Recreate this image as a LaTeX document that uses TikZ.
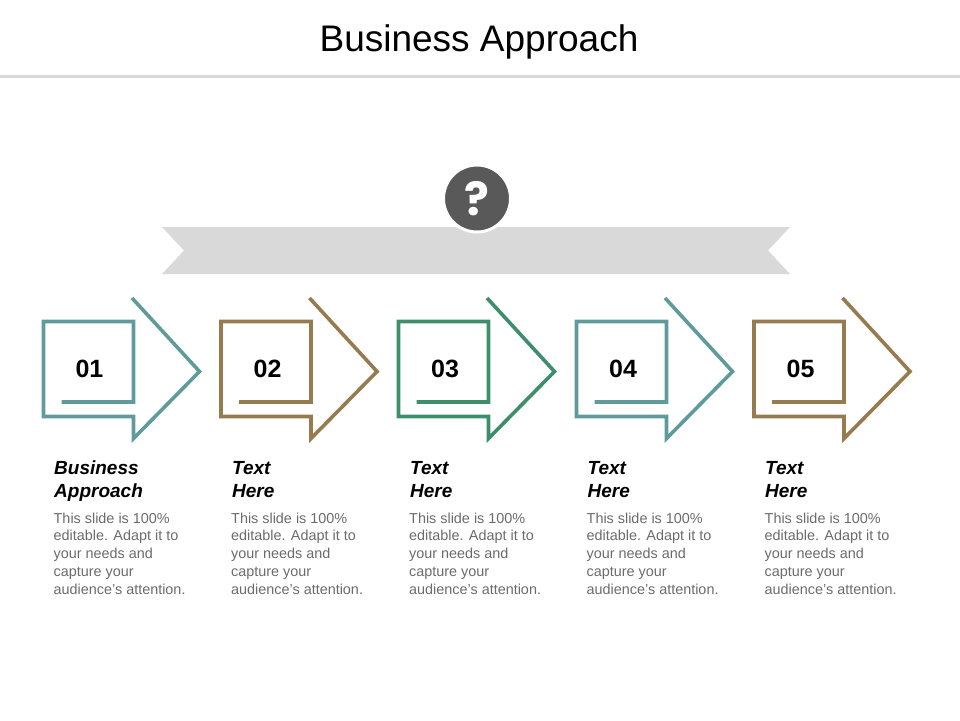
\documentclass[tikz,border=0pt]{standalone}
\usepackage{fontspec}
\setmainfont{Liberation Sans}
\newfontfamily\markfont{Poppins}
\definecolor{tealc}{HTML}{5F9B9B}
\definecolor{brownc}{HTML}{967B4E}
\definecolor{greenc}{HTML}{3E8E6C}
\definecolor{bandc}{HTML}{D9D9D9}
\definecolor{darkc}{HTML}{595959}
\definecolor{bodyc}{HTML}{6B6B6B}
\tikzset{
  numlabel/.style={font=\fontsize{25}{25}\selectfont\bfseries,inner sep=0pt},
  headlabel/.style={anchor=north west,inner sep=0pt,align=left,
    font=\fontsize{19}{23}\selectfont\bfseries\itshape},
  bodylabel/.style={anchor=north west,inner sep=0pt,align=left,text=bodyc,
    font=\fontsize{14.4}{17.8}\selectfont},
  steparrow/.pic={
    \draw [#1,line width=3.6pt,miter limit=10]
      (89,-23.5) -- (156.5,50) -- (90.5,117) -- (90.5,95) -- (0.5,95)
      -- (0.5,0) -- (90.5,0) -- (90.5,80.5) -- (18.5,80.5);
  }
}
\begin{document}
\begin{tikzpicture}[x=1pt,y=-1pt]
  \useasboundingbox (0,0) rectangle (960,720);
  \node [font=\fontsize{37}{37}\selectfont] (title) at (479,42) {Business Approach};
  \draw [bandc,line width=3pt] (0,76) -- (960,76);

  \fill [bandc] (162,227) -- (790,227) -- (768,250.5) -- (790,274) -- (162,274)
    -- (184,250.5) -- cycle;
  \node [circle,fill=darkc,draw=white,line width=3pt,minimum size=67pt,inner sep=0pt,
    text=white,font=\fontsize{46}{46}\selectfont\markfont\bfseries] (mark) at (477,198.5) {?};

  \pic at (43,321.5) {steparrow=tealc};
  \pic at (220.5,321.5) {steparrow=brownc};
  \pic at (398,321.5) {steparrow=greenc};
  \pic at (576,321.5) {steparrow=tealc};
  \pic at (753.5,321.5) {steparrow=brownc};

  \node [numlabel] (num1) at (89.5,368.5) {01};
  \node [numlabel] (num2) at (267.5,368.5) {02};
  \node [numlabel] (num3) at (445,368.5) {03};
  \node [numlabel] (num4) at (623,368.5) {04};
  \node [numlabel] (num5) at (800.5,368.5) {05};

  \node [headlabel] (head1) at (54,461) {Business\\Approach};
  \node [headlabel] (head2) at (232,461) {Text\\Here};
  \node [headlabel] (head3) at (410,461) {Text\\Here};
  \node [headlabel] (head4) at (587.5,461) {Text\\Here};
  \node [headlabel] (head5) at (765,461) {Text\\Here};

  \node [bodylabel] (body1) at (53.5,512.5) {This slide is 100\%\\editable. Adapt it to\\your needs and\\capture your\\audience's attention.};
  \node [bodylabel] (body2) at (231,512.5) {This slide is 100\%\\editable. Adapt it to\\your needs and\\capture your\\audience's attention.};
  \node [bodylabel] (body3) at (409,512.5) {This slide is 100\%\\editable. Adapt it to\\your needs and\\capture your\\audience's attention.};
  \node [bodylabel] (body4) at (586.5,512.5) {This slide is 100\%\\editable. Adapt it to\\your needs and\\capture your\\audience's attention.};
  \node [bodylabel] (body5) at (764.5,512.5) {This slide is 100\%\\editable. Adapt it to\\your needs and\\capture your\\audience's attention.};
\end{tikzpicture}
\end{document}
